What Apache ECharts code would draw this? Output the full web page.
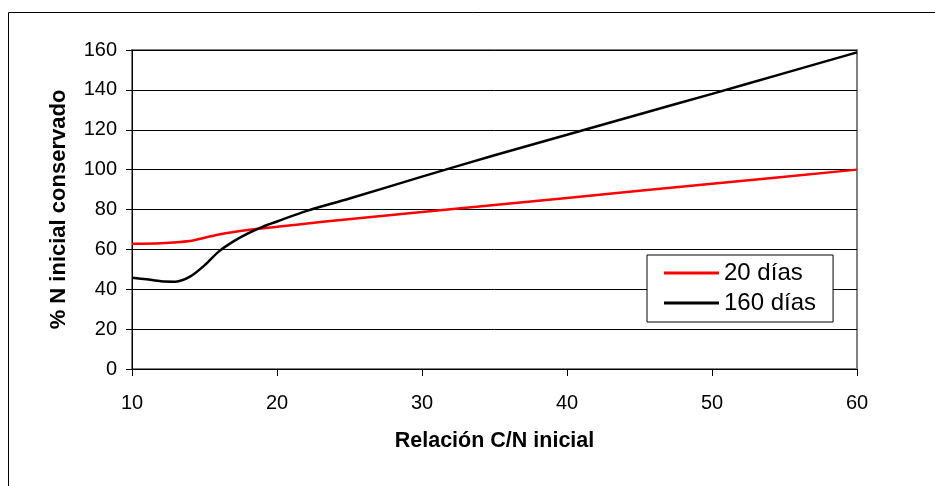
<!DOCTYPE html>
<html>
<head>
<meta charset="utf-8">
<script src="https://cdn.jsdelivr.net/npm/echarts@6/dist/echarts.min.js"></script>
<style>
html,body{margin:0;padding:0;background:#fff;}
#c{width:935px;height:486px;}
</style>
</head>
<body>
<div id="c"></div>
<script>
// Data
const seriesNames = ['20 días', '160 días'];
const cn20 = [10, 12, 14, 15, 16, 18, 20, 23, 30, 40, 50, 60];
const val20 = [62.8, 63.1, 64.2, 65.8, 67.5, 69.7, 71.3, 73.7, 78.7, 85.8, 92.9, 100];
const cn160 = [10, 11, 12, 13, 14, 15, 16, 17, 18, 19, 20, 22, 25, 30, 35, 40, 45, 50, 55, 60];
const val160 = [45.8, 45, 44, 43.8, 46.3, 52, 59, 64, 68, 71.3, 74, 79.2, 85.5, 96.5, 107.2, 117.5, 127.8, 138, 148.4, 158.8];
const xTicks = [10, 20, 30, 40, 50, 60];
const yTicks = [0, 20, 40, 60, 80, 100, 120, 140, 160];
const xTitle = 'Relación C/N inicial';
const yTitle = '% N inicial conservado';

const font = '"Liberation Sans", Arial, sans-serif';
const chart = echarts.init(document.getElementById('c'), null, {renderer: 'canvas'});
chart.setOption({
  animation: false,
  backgroundColor: '#fff',
  graphic: [{
    type: 'rect', z: 0,
    shape: {x: 8.5, y: 12.5, width: 1000, height: 1000},
    style: {fill: 'none', stroke: '#000', lineWidth: 1}
  }],
  grid: {
    left: 132, top: 50, right: 78, bottom: 117,
    show: true, borderColor: '#808080', borderWidth: 2, backgroundColor: 'transparent'
  },
  legend: {
    orient: 'vertical',
    left: 647, top: 255,
    padding: [6, 17, 7, 17],
    itemGap: 6,
    itemWidth: 55, itemHeight: 3,
    backgroundColor: '#fff',
    borderColor: '#000', borderWidth: 1,
    textStyle: {fontFamily: font, fontSize: 24, color: '#000'},
    data: seriesNames.map(n => ({name: n, icon: 'rect'}))
  },
  xAxis: {
    type: 'value', min: xTicks[0], max: xTicks[xTicks.length - 1], interval: 10,
    name: xTitle, nameLocation: 'middle', nameGap: 61,
    nameTextStyle: {fontFamily: font, fontSize: 21.5, fontWeight: 'bold', color: '#000'},
    axisLine: {show: true, onZero: false, lineStyle: {color: '#000', width: 1}},
    axisTick: {show: true, length: 7, lineStyle: {color: '#000'}},
    axisLabel: {fontFamily: font, fontSize: 20, color: '#000', margin: 24},
    splitLine: {show: false}
  },
  yAxis: {
    type: 'value', min: yTicks[0], max: yTicks[yTicks.length - 1], interval: 20,
    name: yTitle, nameLocation: 'middle', nameGap: 62, nameRotate: 90,
    nameTextStyle: {fontFamily: font, fontSize: 22, fontWeight: 'bold', color: '#000'},
    axisLine: {show: true, lineStyle: {color: '#000', width: 1}},
    axisTick: {show: true, length: 6, lineStyle: {color: '#000'}},
    axisLabel: {fontFamily: font, fontSize: 20, color: '#000', margin: 15},
    splitLine: {show: true, lineStyle: {color: '#000', width: 1}}
  },
  series: [
    {
      name: seriesNames[0], type: 'line', smooth: 0.3, symbol: 'none',
      itemStyle: {color: '#ff0000'},
      lineStyle: {color: '#ff0000', width: 2.5},
      data: cn20.map((x, i) => [x, val20[i]]),
      z: 3
    },
    {
      name: seriesNames[1], type: 'line', smooth: 0.3, symbol: 'none',
      itemStyle: {color: '#000'},
      lineStyle: {color: '#000', width: 2.5},
      data: cn160.map((x, i) => [x, val160[i]]),
      z: 4
    }
  ]
});
</script>
</body>
</html>
